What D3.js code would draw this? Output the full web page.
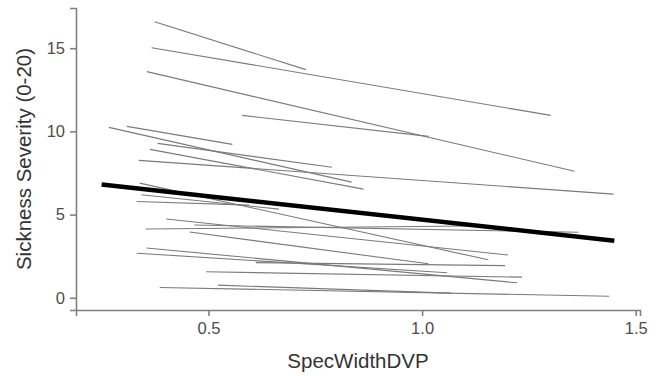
<!DOCTYPE html>
<html>
<head>
<meta charset="utf-8">
<script src="https://cdn.jsdelivr.net/npm/d3@7"></script>
<style>
  html, body { margin: 0; padding: 0; background: #fff; }
  svg { display: block; }
  text { font-family: "Liberation Sans", Arial, sans-serif; }
</style>
</head>
<body>
<svg id="chart" width="662" height="376"></svg>
<script>
// Per-subject fitted segments (SpecWidthDVP range and predicted severity)
const subjX0 = [0.374, 0.367, 0.356, 0.579, 0.267, 0.309, 0.381, 0.363, 0.337, 0.339, 0.343, 0.332, 0.401, 0.467, 0.353, 0.456, 0.355, 0.332, 0.611, 0.495, 0.386, 0.522];
const subjX1 = [0.728, 1.301, 1.357, 1.015, 0.835, 0.556, 0.789, 0.863, 1.448, 1.155, 0.665, 0.596, 1.201, 1.366, 1.108, 1.015, 1.222, 1.059, 1.194, 1.234, 1.438, 1.068];
const subjY0 = [16.59, 15.03, 13.59, 10.96, 10.24, 10.30, 9.28, 8.92, 8.26, 6.89, 6.19, 5.79, 4.73, 4.37, 4.13, 3.95, 2.99, 2.68, 2.11, 1.56, 0.62, 0.76];
const subjY1 = [13.71, 10.96, 7.60, 9.70, 6.95, 9.22, 7.84, 6.53, 6.23, 2.28, 5.33, 5.57, 2.57, 3.94, 4.31, 2.04, 0.90, 1.50, 1.93, 1.24, 0.09, 0.28];

// Population-level fit
const fitX = [0.25, 1.45];
const fitY = [6.81, 3.43];

const xTicks = [0.5, 1.0, 1.5];
const yTicks = [0, 5, 10, 15];
const xTitle = "SpecWidthDVP";
const yTitle = "Sickness Severity (0-20)";

const svg = d3.select("#chart");
const margin = { left: 76, right: 22, top: 8, bottom: 66 };
const W = 662, H = 376;

const segs = subjX0.map((d, i) => ({ x0: subjX0[i], x1: subjX1[i], y0: subjY0[i], y1: subjY1[i] }));

const allX = subjX0.concat(subjX1, fitX);
const allY = subjY0.concat(subjY1, fitY);
const xe = d3.extent(allX), ye = d3.extent(allY);
const xpad = (xe[1] - xe[0]) * 0.05, ypad = (ye[1] - ye[0]) * 0.05;

const x = d3.scaleLinear().domain([xe[0] - xpad, xe[1] + xpad]).range([margin.left, W - margin.right]);
const y = d3.scaleLinear().domain([ye[0] - ypad, ye[1] + ypad]).range([H - margin.bottom, margin.top]);

const axisColor = "#808080";
const tickTextColor = "#4d4d4d";

// Axes
const xAxis = svg.append("g")
  .attr("transform", `translate(0,${H - margin.bottom})`)
  .call(d3.axisBottom(x).tickValues(xTicks).tickFormat(d3.format(".1f")).tickSizeOuter(0).tickSize(6).tickPadding(6));
const yAxis = svg.append("g")
  .attr("transform", `translate(${margin.left},0)`)
  .call(d3.axisLeft(y).tickValues(yTicks).tickFormat(d3.format("d")).tickSizeOuter(0).tickSize(6).tickPadding(5));

[xAxis, yAxis].forEach(g => {
  g.select(".domain").attr("stroke", axisColor).attr("stroke-width", 1.6);
  g.selectAll(".tick line").attr("stroke", axisColor).attr("stroke-width", 1.6);
  g.selectAll(".tick text").attr("fill", tickTextColor).attr("font-size", 16.5)
    .attr("font-family", "'Liberation Sans', Arial, sans-serif");
});

// Subject lines
svg.append("g").selectAll("line").data(segs).join("line")
  .attr("x1", d => x(d.x0)).attr("y1", d => y(d.y0))
  .attr("x2", d => x(d.x1)).attr("y2", d => y(d.y1))
  .attr("stroke", "#7a7a7a").attr("stroke-width", 1.1);

// Fixed-effect line
svg.append("line")
  .attr("x1", x(fitX[0])).attr("y1", y(fitY[0]))
  .attr("x2", x(fitX[1])).attr("y2", y(fitY[1]))
  .attr("stroke", "#000").attr("stroke-width", 4.5);

// Titles
svg.append("text")
  .attr("x", (margin.left + W - margin.right) / 2)
  .attr("y", 368)
  .attr("text-anchor", "middle")
  .attr("font-size", 20.5)
  .attr("fill", "#333")
  .text(xTitle);

svg.append("text")
  .attr("transform", `translate(31,${(margin.top + H - margin.bottom) / 2}) rotate(-90)`)
  .attr("text-anchor", "middle")
  .attr("font-size", 20.5)
  .attr("fill", "#333")
  .text(yTitle);
</script>
</body>
</html>
